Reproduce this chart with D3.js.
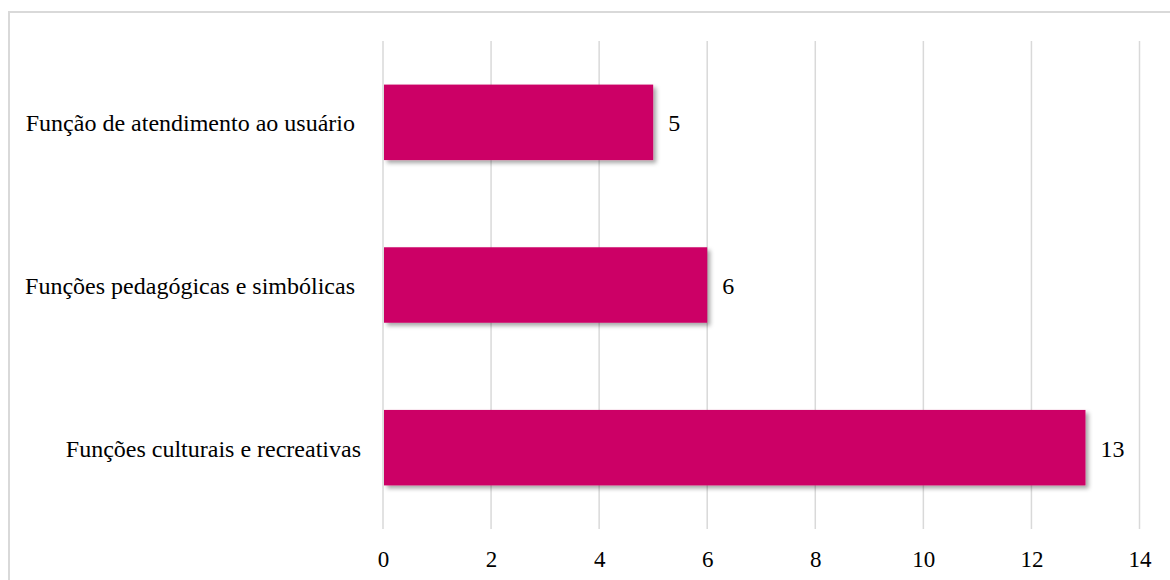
<!DOCTYPE html>
<html>
<head>
<meta charset="utf-8">
<script src="https://cdn.jsdelivr.net/npm/d3@7"></script>
</head>
<body style="margin:0">
<script>
// chart data
var categories = ["Função de atendimento ao usuário ", "Funções pedagógicas e simbólicas ", "Funções culturais e recreativas"];
var values = [5, 6, 13];
var tickValues = [0, 2, 4, 6, 8, 10, 12, 14];

var svgWidth = 1170;
var svgHeight = 580;
var font = "'Liberation Serif'";

var margin = { top: 41, bottom: 51, left: 383, right: 30.5 };
var width = svgWidth - margin.left - margin.right;
var height = svgHeight - margin.top - margin.bottom;

var svg = d3.select("body")
  .append("svg")
  .attr("width", svgWidth)
  .attr("height", svgHeight);

// drop shadow for the bars
var defs = svg.append("defs");
var filter = defs.append("filter")
  .attr("id", "shadow")
  .attr("x", "-5%").attr("y", "-20%")
  .attr("width", "120%").attr("height", "150%");
filter.append("feDropShadow")
  .attr("dx", 3).attr("dy", 3)
  .attr("stdDeviation", 2)
  .attr("flood-color", "#000")
  .attr("flood-opacity", 0.35);

// outer border (runs off the right and bottom edges)
svg.append("rect")
  .attr("x", 9).attr("y", 12)
  .attr("width", svgWidth + 20).attr("height", svgHeight + 20)
  .attr("fill", "none")
  .attr("stroke", "#d9d9d9")
  .attr("stroke-width", 2);

var chartGroup = svg.append("g")
  .attr("transform", `translate(${margin.left}, ${margin.top})`);

var xScale = d3.scaleLinear()
  .domain([0, 14])
  .range([0, width]);

var yScale = d3.scaleBand()
  .domain(categories)
  .range([0, height])
  .paddingInner(0.536)
  .paddingOuter(0.268);

// vertical gridlines
chartGroup.append("g")
  .selectAll("line")
  .data(tickValues)
  .enter()
  .append("line")
  .attr("x1", d => xScale(d))
  .attr("x2", d => xScale(d))
  .attr("y1", 0)
  .attr("y2", height)
  .attr("stroke", "#d9d9d9")
  .attr("stroke-width", 1.5);

// bottom axis labels
var bottomAxis = d3.axisBottom(xScale)
  .tickValues(tickValues)
  .tickSize(0);

var xAxis = chartGroup.append("g")
  .attr("transform", `translate(0, ${height})`)
  .call(bottomAxis)
  .attr("font-family", null)
  .attr("font-size", null);
xAxis.select(".domain").remove();
xAxis.selectAll("text")
  .attr("y", 37.5)
  .attr("dy", 0)
  .style("font-family", font)
  .style("font-size", "23px")
  .attr("fill", "#000");

// bars
chartGroup.selectAll("rect.bar")
  .data(values)
  .enter()
  .append("rect")
  .attr("class", "bar")
  .attr("x", xScale(0) + 1)
  .attr("y", (d, i) => yScale(categories[i]))
  .attr("width", d => xScale(d) - xScale(0) - 1)
  .attr("height", yScale.bandwidth())
  .attr("fill", "#cc0066")
  .attr("filter", "url(#shadow)");

// value labels
chartGroup.selectAll("text.value")
  .data(values)
  .enter()
  .append("text")
  .attr("class", "value")
  .attr("x", d => xScale(d) + 15)
  .attr("y", (d, i) => yScale(categories[i]) + yScale.bandwidth() / 2)
  .attr("dy", "0.37em")
  .style("font-family", font)
  .style("font-size", "24px")
  .text(d => d);

// category labels (trailing spaces kept, as in the source)
chartGroup.selectAll("text.cat")
  .data(categories)
  .enter()
  .append("text")
  .attr("class", "cat")
  .attr("x", -22)
  .attr("y", d => yScale(d) + yScale.bandwidth() / 2)
  .attr("dy", "0.37em")
  .attr("text-anchor", "end")
  .style("white-space", "pre")
  .style("font-family", font)
  .style("font-size", "24px")
  .text(d => d);
</script>
</body>
</html>
